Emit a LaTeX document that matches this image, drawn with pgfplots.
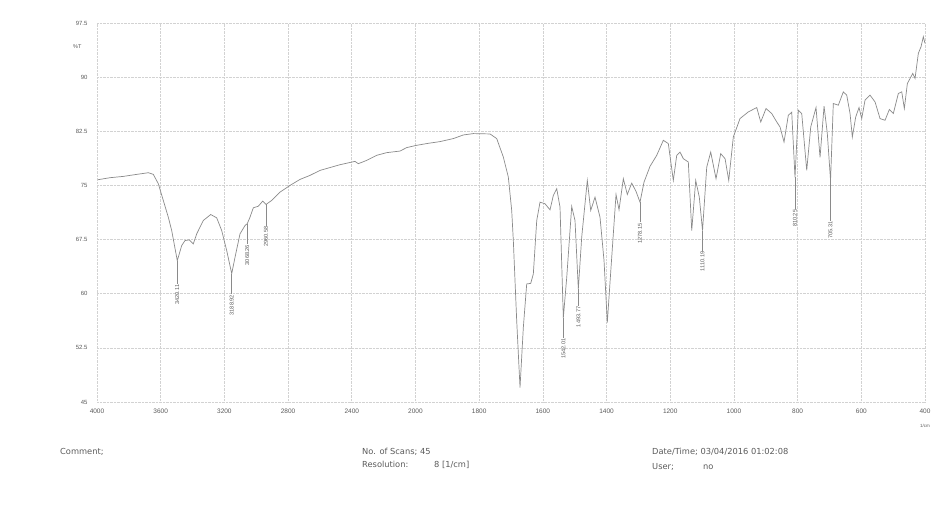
\documentclass[border=0pt]{standalone}
\usepackage{pgfplots}
\pgfplotsset{compat=1.18}
\usepackage{pgfplotstable}
\usepackage{fontspec}
\setmainfont{Liberation Sans}
\newfontfamily\infofont{DejaVu Sans}
\definecolor{curve}{HTML}{8A8A8A}
\definecolor{gridc}{HTML}{D2D2D2}
\definecolor{txt}{HTML}{5A5A5A}

\pgfplotstableread{
wn t
3994.0 75.79
3918.4 76.07
3834.8 76.25
3750.7 76.53
3677.8 76.76
3646.4 76.53
3615.0 75.24
3583.6 72.92
3552.2 70.60
3530.9 68.75
3495.7 64.58
3468.1 66.67
3447.4 67.36
3420.4 67.46
3395.2 66.90
3373.9 68.29
3332.4 70.14
3285.9 70.97
3248.2 70.51
3216.8 68.75
3185.4 65.97
3154.0 62.78
3133.3 65.04
3101.9 68.29
3070.5 69.44
3056.0 69.72
3039.1 70.60
3018.4 71.90
2987.0 72.12
2959.4 72.82
2938.6 72.36
2902.9 72.92
2850.8 74.07
2788.0 75.00
2725.2 75.83
2662.4 76.39
2599.6 77.08
2474.0 77.87
2379.8 78.33
2359.0 78.01
2306.3 78.47
2243.5 79.17
2180.7 79.54
2097.0 79.76
2055.0 80.24
1996.1 80.56
1954.3 80.87
1922.9 81.07
1881.1 81.49
1849.7 81.99
1818.3 82.18
1765.9 82.13
1744.9 81.49
1724.1 78.93
1708.4 76.15
1697.8 71.53
1692.7 67.36
1682.1 56.25
1671.7 46.99
1661.3 55.32
1650.7 61.35
1638.1 61.43
1629.9 62.74
1619.2 70.14
1608.9 72.68
1593.2 72.46
1577.5 71.62
1567.1 73.61
1556.4 74.54
1546.1 71.99
1535.7 56.67
1525.0 62.26
1509.4 72.08
1499.0 70.14
1488.6 60.65
1478.0 67.82
1460.4 75.69
1449.7 71.53
1436.2 73.37
1420.5 70.60
1407.9 64.58
1397.6 56.01
1385.9 63.65
1370.2 73.75
1360.8 71.62
1347.3 75.93
1334.8 73.75
1320.9 75.32
1307.4 74.17
1294.9 72.68
1282.3 75.46
1263.5 77.64
1242.4 79.17
1221.7 81.25
1206.0 80.79
1190.3 75.69
1179.6 79.17
1169.3 79.62
1158.9 78.71
1143.2 78.24
1132.5 68.75
1120.0 75.69
1108.7 73.37
1098.6 68.75
1085.4 77.54
1072.9 79.62
1056.2 75.93
1041.5 79.40
1027.9 78.71
1016.3 75.69
1001.9 81.71
980.9 84.26
954.8 85.18
928.4 85.79
915.8 83.79
899.2 85.65
881.3 84.96
865.6 83.79
855.2 83.10
842.7 81.01
829.2 84.72
818.5 85.14
808.2 76.11
797.8 85.42
787.1 84.96
771.4 77.08
758.8 83.10
742.2 85.79
729.6 78.89
717.0 85.97
706.7 82.18
696.6 75.69
687.9 86.35
672.2 86.11
656.5 87.96
645.8 87.50
635.4 84.96
628.2 81.71
617.5 84.49
607.2 85.79
598.7 84.26
588.3 86.81
572.6 87.50
556.9 86.57
541.2 84.26
525.5 84.03
512.0 85.51
499.4 84.96
483.7 87.74
473.0 87.96
464.9 85.65
455.4 89.12
438.5 90.51
431.3 89.82
420.9 93.29
412.5 94.21
405.3 95.60
400.0 94.68
}\spectrum

\pgfplotstableread{
wn t lead lab
3495.7 64.58 3.19 3420.11
3154.0 62.78 2.82 3188.92
3056.0 69.72 2.82 3068.26
2938.6 72.36 2.92 2960.58
1535.7 56.67 2.74 1542.01
1488.6 60.65 2.32 1493.77
1294.9 72.68 2.78 1278.15
1098.6 68.75 2.78 1110.19
808.2 76.11 4.35 810.25
696.6 75.69 5.55 705.31
}\peaks

\begin{document}
\begin{tikzpicture}
\begin{axis}[
  scale only axis,
  width=828pt, height=379pt,
  xmin=0, xmax=13, ymin=45, ymax=97.5,
  xtick={0,...,13},
  xticklabels={4000,3600,3200,2800,2400,2000,1800,1600,1400,1200,1000,800,600,400},
  ytick={45,52.5,60,67.5,75,82.5,90,97.5},
  yticklabels={45,52.5,60,67.5,75,82.5,90,97.5},
  grid=major,
  major grid style={gridc, densely dotted, line width=0.6pt},
  axis line style={draw=none},
  tick style={draw=none},
  xticklabel style={font=\fontsize{6.5}{7}\selectfont, text=txt, yshift=-3pt},
  yticklabel style={font=\fontsize{6}{7}\selectfont, text=txt, xshift=-6pt},
  clip=false,
]
\addplot[curve, line width=0.7pt, mark=none]
  table[x expr={\thisrow{wn}>=2000 ? (4000-\thisrow{wn})/400 : 5+(2000-\thisrow{wn})/200}, y=t] \spectrum;
\addplot[draw=none, mark=none, forget plot,
  error bars/.cd, y dir=minus, y explicit, error mark=none,
  error bar style={draw=curve, solid, line width=0.6pt}]
  table[x expr={\thisrow{wn}>=2000 ? (4000-\thisrow{wn})/400 : 5+(2000-\thisrow{wn})/200}, y=t, y error=lead] \peaks;
\addplot[draw=none, mark=none, forget plot,
  nodes near coords, point meta=explicit symbolic,
  nodes near coords align={anchor=east},
  nodes near coords style={rotate=90, anchor=east, inner sep=0.8pt, font=\fontsize{5.6}{6}\selectfont, text=txt}]
  table[x expr={\thisrow{wn}>=2000 ? (4000-\thisrow{wn})/400 : 5+(2000-\thisrow{wn})/200}, y expr={\thisrow{t}-\thisrow{lead}}, meta=lab] \peaks;
\end{axis}
\node[anchor=east, font=\fontsize{5.5}{6}\selectfont, text=txt] at (-12pt,355pt) {\%T};
\node[anchor=north, font=\fontsize{4.5}{5}\selectfont, text=txt] at (828pt,-19pt) {1/cm};
\begin{scope}[every node/.style={anchor=base west, font=\infofont\fontsize{8.3}{10}\selectfont, text=txt, inner sep=0pt}]
\node at (-37pt,-52pt) {Comment;};
\node at (265pt,-52pt) {No. of Scans; 45};
\node at (265pt,-65pt) {Resolution:};
\node at (337pt,-65pt) {8 [1/cm]};
\node at (555pt,-52pt) {Date/Time; 03/04/2016 01:02:08};
\node at (555pt,-67pt) {User;};
\node at (606pt,-67pt) {no};
\end{scope}
\path[use as bounding box] (-97pt,-109pt) rectangle (850pt,402pt);
\end{tikzpicture}
\end{document}
